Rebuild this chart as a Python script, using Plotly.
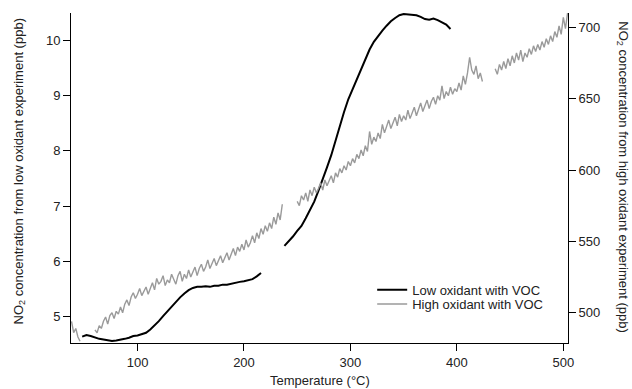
import plotly.graph_objects as go

# ---------------- data ----------------
# Low oxidant with VOC (left axis, ppb)
low_t1 = list(range(48, 217, 4))
low_v1 = [4.64, 4.67, 4.65, 4.62, 4.60, 4.59, 4.57, 4.56, 4.57, 4.58,
          4.60, 4.62, 4.65, 4.66, 4.68, 4.71, 4.77, 4.84, 4.92, 5.01,
          5.10, 5.19, 5.27, 5.35, 5.42, 5.48, 5.52, 5.54, 5.54, 5.55,
          5.54, 5.56, 5.56, 5.58, 5.58, 5.60, 5.61, 5.63, 5.64, 5.66,
          5.68, 5.73, 5.79]
low_t2 = list(range(238, 395, 4))
low_v2 = [6.28, 6.36, 6.45, 6.55, 6.64, 6.78, 6.93, 7.08, 7.28, 7.48,
          7.70, 7.92, 8.18, 8.46, 8.70, 8.93, 9.11, 9.30, 9.48, 9.66,
          9.83, 9.97, 10.08, 10.17, 10.26, 10.34, 10.40, 10.45, 10.47, 10.46,
          10.45, 10.45, 10.42, 10.38, 10.37, 10.39, 10.36, 10.32, 10.28, 10.20]

# High oxidant with VOC (right axis, ppb)
high_tA = list(range(38, 47, 2))
high_vA = [494, 486, 489, 483, 480]
high_tB = list(range(60, 237, 2))
high_vB = [488, 486, 491, 489, 494, 497, 492, 498, 500, 496,
           501, 499, 504, 500, 506, 509, 505, 511, 514, 510,
           513, 517, 512, 515, 518, 513, 517, 521, 516, 524,
           520, 522, 526, 519, 523, 521, 527, 523, 520, 526,
           529, 522, 527, 524, 530, 525, 528, 532, 526, 531,
           534, 529, 532, 537, 531, 534, 538, 533, 536, 540,
           535, 539, 542, 537, 541, 545, 540, 546, 543, 548,
           544, 551, 546, 549, 554, 549, 556, 552, 559, 555,
           561, 557, 563, 559, 567, 562, 570, 565, 576]
high_tC = list(range(250, 425, 2))
high_vC = [578, 575, 582, 579, 584, 578, 586, 582, 588, 584,
           587, 591, 586, 593, 589, 592, 596, 591, 598, 595,
           601, 598, 603, 600, 606, 603, 608, 605, 611, 608,
           614, 610, 617, 613, 627, 618, 623, 620, 626, 622,
           632, 626, 630, 635, 629, 633, 637, 631, 639, 634,
           638, 635, 642, 636, 640, 644, 638, 643, 647, 641,
           645, 649, 643, 648, 651, 646, 652, 649, 659, 650,
           655, 652, 658, 653, 657, 655, 661, 656, 666, 660,
           668, 679, 670, 667, 673, 664, 668, 662]
high_tD = list(range(436, 505, 2))
high_vD = [671, 667, 674, 670, 676, 671, 678, 673, 680, 675,
           682, 677, 684, 676, 682, 679, 685, 681, 687, 683,
           688, 684, 690, 686, 692, 688, 694, 690, 697, 693,
           701, 695, 707, 699, 710]

x_ticks = [100, 200, 300, 400, 500]
y_left_ticks = [5, 6, 7, 8, 9, 10]
y_right_ticks = [500, 550, 600, 650, 700]

# ---------------- figure ----------------
low_t = low_t1 + [None] + low_t2
low_v = low_v1 + [None] + low_v2
high_t = high_tA + [None] + high_tB + [None] + high_tC + [None] + high_tD
high_v = high_vA + [None] + high_vB + [None] + high_vC + [None] + high_vD

FONT = "Liberation Sans, Arial, sans-serif"
TXT = "#222"

fig = go.Figure()
fig.add_trace(go.Scatter(x=low_t, y=low_v, mode="lines", name="Low oxidant with VOC",
                         line=dict(color="black", width=2), yaxis="y",
                         connectgaps=False, legend="legend", showlegend=True))
fig.add_trace(go.Scatter(x=high_t, y=high_v, mode="lines", name="High oxidant with VOC",
                         line=dict(color="#9a9a9a", width=1.4), yaxis="y2",
                         connectgaps=False, legend="legend2", showlegend=True))

axis_common = dict(showgrid=False, zeroline=False, showline=True, linecolor="black",
                   linewidth=1, ticks="outside", ticklen=7, tickcolor="black",
                   tickfont=dict(family=FONT, size=13, color=TXT))

leg_common = dict(xanchor="left", yanchor="middle", bgcolor="rgba(0,0,0,0)",
                  borderwidth=0, font=dict(family=FONT, size=13, color=TXT))

fig.update_layout(
    width=632, height=389,
    margin=dict(l=71, r=64, t=13, b=46),
    paper_bgcolor="white", plot_bgcolor="white",
    showlegend=True,
    font=dict(family=FONT, size=12, color=TXT),
    xaxis=dict(range=[37.5, 504.4], tickvals=x_ticks, **axis_common),
    yaxis=dict(range=[4.525, 10.49], tickvals=y_left_ticks, **axis_common),
    yaxis2=dict(range=[478.8, 710], tickvals=y_right_ticks, overlaying="y",
                side="right", **axis_common),
    legend=dict(x=0.606, y=0.161, **leg_common),
    legend2=dict(x=0.606, y=0.118, **leg_common),
    annotations=[
        dict(text="Temperature (°C)", x=0.5, y=0, xref="paper", yref="paper",
             xanchor="center", yanchor="bottom", yshift=-47, showarrow=False,
             font=dict(family=FONT, size=13, color=TXT)),
        dict(text="NO<sub>2</sub> concentration from low oxidant experiment (ppb)",
             x=0, y=0.52, xref="paper", yref="paper", xanchor="center", yanchor="middle",
             xshift=-52, textangle=-90, showarrow=False,
             font=dict(family=FONT, size=13, color=TXT)),
        dict(text="NO<sub>2</sub> concentration from high oxidant experiment (ppb)",
             x=1, y=0.505, xref="paper", yref="paper", xanchor="center", yanchor="middle",
             xshift=55, textangle=90, showarrow=False,
             font=dict(family=FONT, size=13, color=TXT)),
    ],
)

fig.write_html("out.html")
